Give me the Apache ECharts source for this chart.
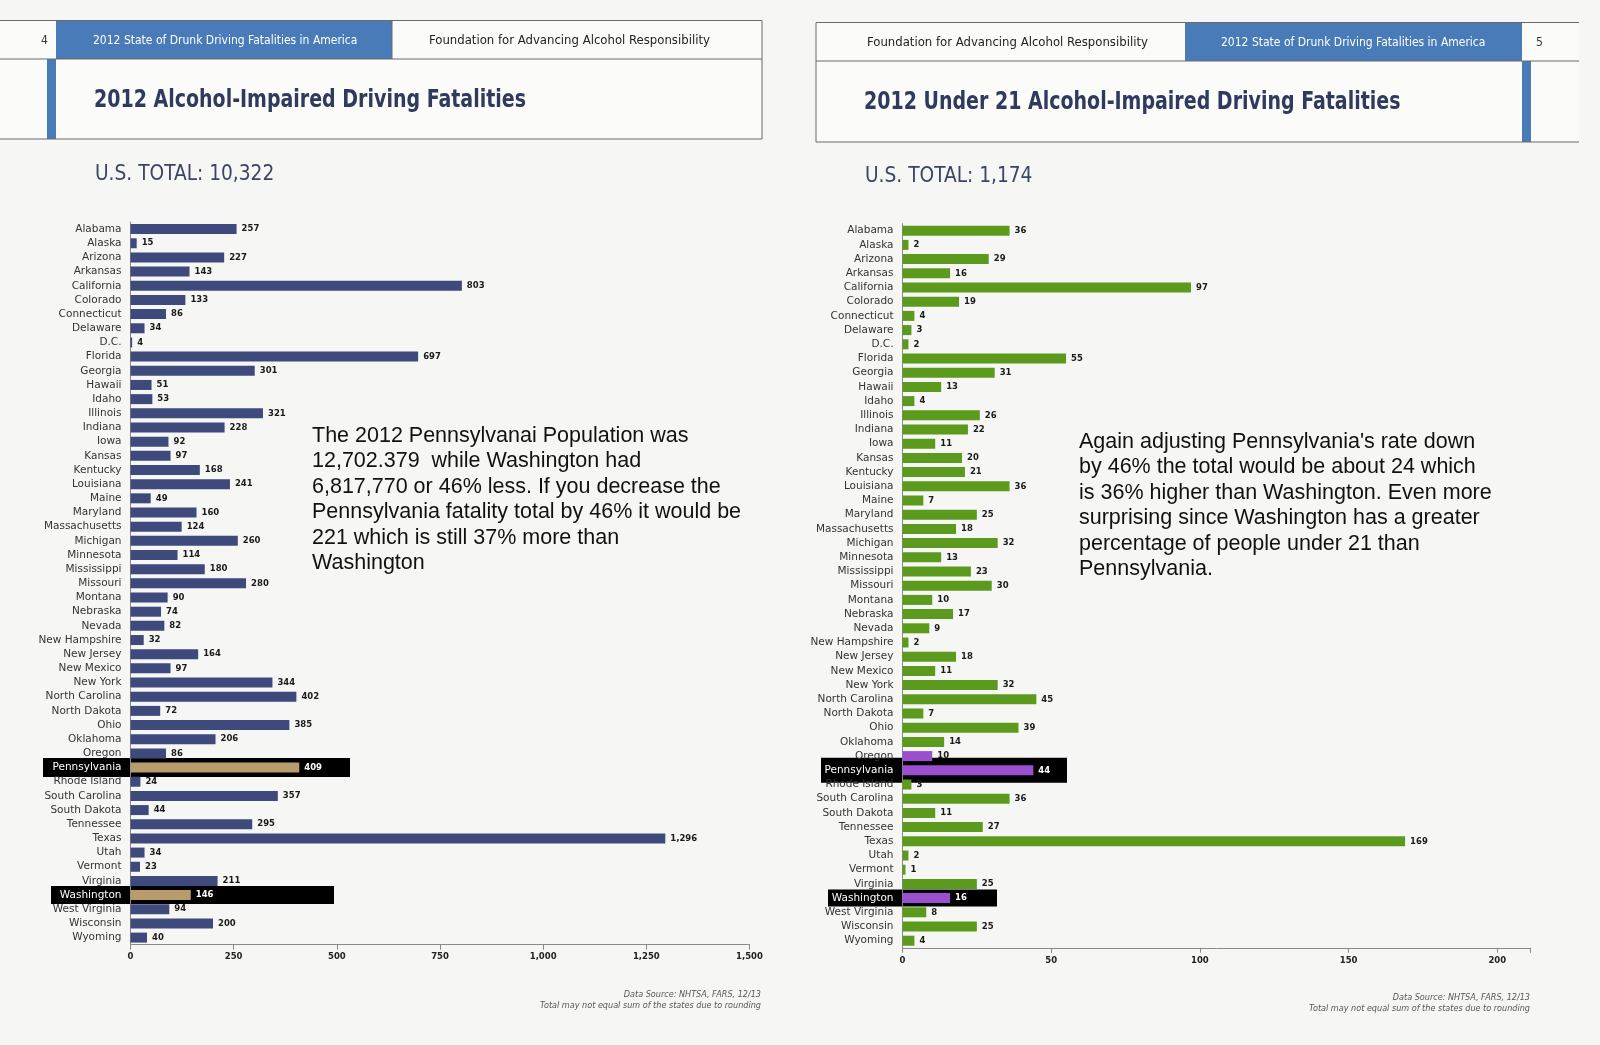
<!DOCTYPE html>
<html>
<head>
<meta charset="utf-8">
<script src="https://cdn.jsdelivr.net/npm/echarts@6/dist/echarts.min.js"></script>
<style>
  html, body { margin: 0; padding: 0; background: #f6f6f5; }
  #main { width: 1600px; height: 1045px; }
</style>
</head>
<body>
<div id="main"></div>
<script>
const states = ['Alabama', 'Alaska', 'Arizona', 'Arkansas', 'California', 'Colorado', 'Connecticut',
  'Delaware', 'D.C.', 'Florida', 'Georgia', 'Hawaii', 'Idaho', 'Illinois', 'Indiana', 'Iowa', 'Kansas',
  'Kentucky', 'Louisiana', 'Maine', 'Maryland', 'Massachusetts', 'Michigan', 'Minnesota', 'Mississippi',
  'Missouri', 'Montana', 'Nebraska', 'Nevada', 'New Hampshire', 'New Jersey', 'New Mexico', 'New York',
  'North Carolina', 'North Dakota', 'Ohio', 'Oklahoma', 'Oregon', 'Pennsylvania', 'Rhode Island',
  'South Carolina', 'South Dakota', 'Tennessee', 'Texas', 'Utah', 'Vermont', 'Virginia', 'Washington',
  'West Virginia', 'Wisconsin', 'Wyoming']

// all ages, 2012
const allFatalities = [257, 15, 227, 143, 803, 133, 86, 34, 4, 697, 301, 51, 53, 321, 228, 92, 97,
  168, 241, 49, 160, 124, 260, 114, 180, 280, 90, 74, 82, 32, 164, 97, 344, 402, 72, 385, 206, 86,
  409, 24, 357, 44, 295, 1296, 34, 23, 211, 146, 94, 200, 40]

// under 21, 2012
const under21Fatalities = [36, 2, 29, 16, 97, 19, 4, 3, 2, 55, 31, 13, 4, 26, 22, 11, 20, 21, 36, 7,
  25, 18, 32, 13, 23, 30, 10, 17, 9, 2, 18, 11, 32, 45, 7, 39, 14, 10, 44, 3, 36, 11, 27, 169, 2, 1,
  25, 16, 8, 25, 4]

const leftTicks = [0, 250, 500, 750, 1000, 1250, 1500]
const rightTicks = [0, 50, 100, 150, 200]

const highlighted = ['Pennsylvania', 'Washington']
const rightExtra = ['Oregon'] // overlay colour bleeds onto Oregon in the original

const NAVY = '#3e4a7b'
const TAN = '#b99c6c'
const GREEN = '#5b9a1d'
const PURPLE = '#9a4fcf'
const HEAD_BLUE = '#4a7bb9'
const TITLE = '#2f3a5e'
const NARROW = '"DejaVu Sans Condensed", "Liberation Sans Narrow", sans-serif'

const chart = echarts.init(document.getElementById('main'))

function barData(values, baseColor, hiColor, extra) {
  return values.map((v, i) => {
    const name = states[i]
    if (highlighted.includes(name)) {
      return { value: v, itemStyle: { color: hiColor }, label: { color: '#ffffff' } }
    }
    if (extra && extra.includes(name)) {
      return { value: v, itemStyle: { color: hiColor } }
    }
    return { value: v, itemStyle: { color: baseColor } }
  })
}

function catAxis(gridIndex) {
  return {
    type: 'category',
    gridIndex: gridIndex,
    data: states,
    inverse: true,
    z: 5,
    axisLine: { show: true, lineStyle: { color: '#8a8a8a', width: 1 } },
    axisTick: { show: false },
    axisLabel: {
      interval: 0,
      margin: 9,
      fontSize: 10.5,
      fontFamily: '"DejaVu Sans", sans-serif',
      color: (val) => highlighted.includes(val) ? '#ffffff' : '#333333'
    }
  }
}

function valAxis(gridIndex, max, interval, ticks) {
  return {
    type: 'value',
    gridIndex: gridIndex,
    min: 0,
    max: max,
    interval: interval,
    z: 5,
    splitLine: { show: false },
    axisLine: { show: true, lineStyle: { color: '#8a8a8a', width: 1 } },
    axisTick: { show: true, length: 5, lineStyle: { color: '#8a8a8a' } },
    axisLabel: {
      margin: 8,
      fontSize: 8.5,
      fontWeight: 'bold',
      fontFamily: '"DejaVu Sans", sans-serif',
      color: '#222222',
      formatter: (v) => ticks.includes(v) ? v.toLocaleString('en-US') : ''
    }
  }
}

const valueLabel = {
  show: true,
  position: 'right',
  distance: 5,
  fontSize: 8.5,
  fontWeight: 'bold',
  fontFamily: '"DejaVu Sans", sans-serif',
  color: '#1a1a1a',
  formatter: (p) => p.value.toLocaleString('en-US')
}

const option = {
  backgroundColor: '#f6f6f5',
  animation: false,
  grid: [
    { left: 130.5, top: 222, width: 619, height: 722.7 },
    { left: 902.5, top: 223.6, width: 627.5, height: 724.2 }
  ],
  xAxis: [
    valAxis(0, 1500, 250, leftTicks),
    valAxis(1, 211, 50, rightTicks)
  ],
  yAxis: [catAxis(0), catAxis(1)],
  series: [
    {
      type: 'bar',
      xAxisIndex: 0,
      yAxisIndex: 0,
      z: 5,
      barWidth: 10,
      label: valueLabel,
      data: barData(allFatalities, NAVY, TAN)
    },
    {
      type: 'bar',
      xAxisIndex: 1,
      yAxisIndex: 1,
      z: 5,
      barWidth: 10,
      label: valueLabel,
      data: barData(under21Fatalities, GREEN, PURPLE, rightExtra)
    }
  ]
}

chart.setOption(option)

function line(x1, y1, x2, y2) {
  return { type: 'line', z: 1, shape: { x1, y1, x2, y2 }, style: { stroke: '#6a6a6a', lineWidth: 1 } }
}
function rect(x, y, w, h, color) {
  return { type: 'rect', z: 1, shape: { x, y, width: w, height: h }, style: { fill: color } }
}
// text placed at (x, y), optionally squeezed horizontally to mimic the condensed print face
function text(str, x, y, font, fill, squeeze) {
  return {
    type: 'text', z: 6, x: x, y: y, scaleX: squeeze || 1,
    style: { text: str, x: 0, y: 0, font, fill, textAlign: 'left', textVerticalAlign: 'middle' }
  }
}
function block(str, x, y, font, fill, lh, align) {
  return {
    type: 'text', z: 6,
    style: { text: str, x, y, font, fill, lineHeight: lh, textAlign: align || 'left', textVerticalAlign: 'top' }
  }
}

// black highlight boxes around the two compared states
const pyL = chart.convertToPixel({ yAxisIndex: 0 }, 'Pennsylvania')
const wyL = chart.convertToPixel({ yAxisIndex: 0 }, 'Washington')
const pyR = chart.convertToPixel({ yAxisIndex: 1 }, 'Pennsylvania')
const wyR = chart.convertToPixel({ yAxisIndex: 1 }, 'Washington')

const annotationL = 'The 2012 Pennsylvanai Population was\n12,702.379  while Washington had\n' +
  '6,817,770 or 46% less. If you decrease the\nPennsylvania fatality total by 46% it would be\n' +
  '221 which is still 37% more than\nWashington'
const annotationR = "Again adjusting Pennsylvania's rate down\nby 46% the total would be about 24 which\n" +
  'is 36% higher than Washington. Even more\nsurprising since Washington has a greater\n' +
  'percentage of people under 21 than\nPennsylvania.'
const sourceNote = 'Data Source: NHTSA, FARS, 12/13\nTotal may not equal sum of the states due to rounding'
const BODY = '21.5px "Liberation Sans", Arial, sans-serif'

chart.setOption({
  graphic: [
    // left page header
    rect(0, 20.5, 762, 118.5, '#fbfbfa'),
    rect(56, 20.5, 336, 38.5, HEAD_BLUE),
    rect(47, 59, 9, 80, HEAD_BLUE),
    line(0, 20.5, 762, 20.5),
    line(0, 59, 762, 59),
    line(0, 139, 762, 139),
    line(762, 20.5, 762, 139),
    line(392, 20.5, 392, 59),
    text('4', 41, 40.5, '12px ' + NARROW, '#333'),
    text('2012 State of Drunk Driving Fatalities in America', 93, 40.5, '12px ' + NARROW, '#ffffff'),
    text('Foundation for Advancing Alcohol Responsibility', 429, 40.5, '13px ' + NARROW, '#222'),
    text('2012 Alcohol-Impaired Driving Fatalities', 94, 100, 'bold 25px ' + NARROW, TITLE, 0.845),
    text('U.S. TOTAL: 10,322', 95, 174, '22px ' + NARROW, '#3b4562', 0.94),

    // right page header
    rect(816, 22.5, 763, 119.5, '#fbfbfa'),
    rect(1185, 22.5, 337, 38.5, HEAD_BLUE),
    rect(1522, 61, 9, 81, HEAD_BLUE),
    line(816, 22.5, 1579, 22.5),
    line(816, 61, 1579, 61),
    line(816, 142, 1579, 142),
    line(816, 22.5, 816, 142),
    text('Foundation for Advancing Alcohol Responsibility', 867, 42.5, '13px ' + NARROW, '#222'),
    text('2012 State of Drunk Driving Fatalities in America', 1221, 42.5, '12px ' + NARROW, '#ffffff'),
    text('5', 1536, 42.5, '12px ' + NARROW, '#333'),
    text('2012 Under 21 Alcohol-Impaired Driving Fatalities', 864, 102, 'bold 25px ' + NARROW, TITLE, 0.845),
    text('U.S. TOTAL: 1,174', 865, 176, '22px ' + NARROW, '#3b4562', 0.94),

    // highlight boxes
    rect(43, pyL - 9.5, 307, 19, '#000000'),
    rect(51, wyL - 9, 283, 18, '#000000'),
    rect(821, pyR - 12.5, 246, 25, '#000000'),
    rect(828, wyR - 8.5, 169, 17, '#000000'),

    // commentary
    block(annotationL, 312, 423, BODY, '#111', 25.5),
    block(annotationR, 1079, 429, BODY, '#111', 25.5),

    // sources
    block(sourceNote, 761, 989.5, 'italic 9px ' + NARROW, '#555', 11, 'right'),
    block(sourceNote, 1530, 992.5, 'italic 9px ' + NARROW, '#555', 11, 'right')
  ]
})
</script>
</body>
</html>
